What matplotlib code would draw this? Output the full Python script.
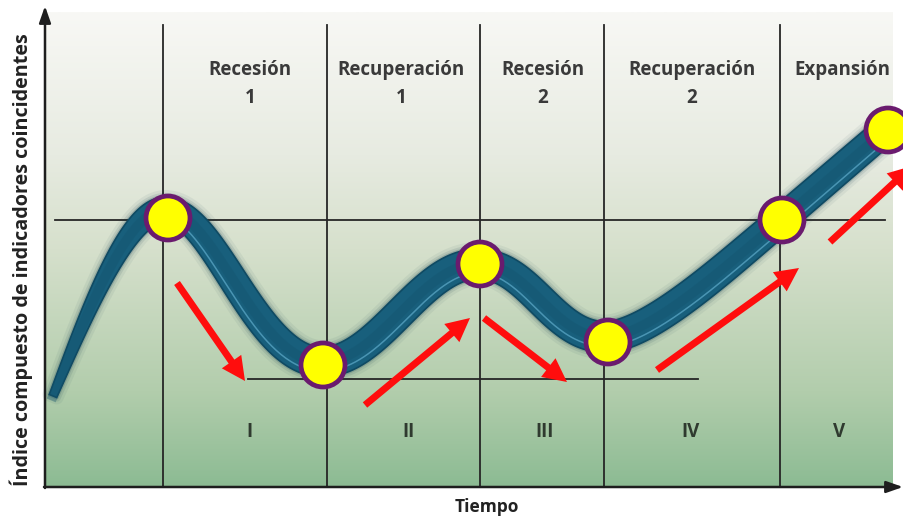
import numpy as np
import matplotlib.pyplot as plt
from matplotlib.colors import LinearSegmentedColormap
from matplotlib.patches import Circle, FancyArrowPatch, Polygon

plt.rcParams['font.family'] = ['Open Sans', 'DejaVu Sans']

# phases and stages along the time axis
phase_names = ["Recesión", "Recuperación", "Recesión", "Recuperación", "Expansión"]
phase_nums = ["1", "1", "2", "2", ""]
phase_x = [250, 401, 543, 692, 842]
stage_names = ["I", "II", "III", "IV", "V"]
stage_x = [249, 409, 545, 691, 839]
cycle_bounds = [163, 327, 480, 604, 780]

# composite index curve: anchors, bezier handles and band width (image units, y down)
anchors = [(53, 396), (165, 210), (322, 362), (478, 264), (605, 337), (781, 220), (886, 130)]
handles = [((85, 318), (128, 208)), ((215, 210), (255, 362)), ((380, 362), (420, 264)),
           ((530, 264), (552, 337)), ((650, 337), (730, 262)), ((816, 190), (851, 160))]
widths = [8, 26, 30, 30, 31, 29, 28]

# turning points
points_x = [168, 323, 480, 608, 782, 888]
points_y = [218, 365, 264, 342, 220, 130]

# red trend arrows (tail, head)
arrows = [((177, 283), (245, 381)), ((365, 405), (470, 318)), ((484, 318), (567, 382)),
          ((657, 370), (799, 268)), ((830, 242), (912, 166))]

ref_high = 220
ref_low = 379


def bez(p0, c1, c2, p1, t):
    p0, c1, c2, p1 = map(np.array, (p0, c1, c2, p1))
    t = t[:, None]
    pt = (1 - t) ** 3 * p0 + 3 * (1 - t) ** 2 * t * c1 + 3 * (1 - t) * t ** 2 * c2 + t ** 3 * p1
    d = 3 * (1 - t) ** 2 * (c1 - p0) + 6 * (1 - t) * t * (c2 - c1) + 3 * t ** 2 * (p1 - c2)
    return pt, d


fig = plt.figure(figsize=(9.04, 5.19), dpi=100)
ax = fig.add_axes([0, 0, 1, 1])
ax.set_xlim(0, 904)
ax.set_ylim(519, 0)
ax.axis('off')

# background gradient
cmap = LinearSegmentedColormap.from_list(
    'bg', [(0, '#f8f8f5'), (0.3, '#e7ebe1'), (0.5, '#d6e0cc'), (0.8, '#b2cdac'), (1, '#8cbb93')])
grad = np.linspace(0, 1, 256).reshape(-1, 1)
ax.imshow(grad, extent=[45, 893, 487, 12], cmap=cmap, aspect='auto', zorder=0)

# grid lines
for x in cycle_bounds:
    ax.plot([x, x], [25, 487], color='#262626', lw=1.3, zorder=1)
ax.plot([55, 885], [ref_high, ref_high], color='#262626', lw=1.3, zorder=1)
ax.plot([248, 698], [ref_low, ref_low], color='#262626', lw=1.3, zorder=1)

# axes with arrow heads
ax.annotate('', xy=(45, 6), xytext=(45, 488),
            arrowprops=dict(arrowstyle='-|>,head_length=1.0,head_width=0.35', lw=1.8,
                            color='#1e1e1e', shrinkA=0, shrinkB=0), zorder=2)
ax.annotate('', xy=(903, 487), xytext=(44, 487),
            arrowprops=dict(arrowstyle='-|>,head_length=1.0,head_width=0.35', lw=1.8,
                            color='#1e1e1e', shrinkA=0, shrinkB=0), zorder=2)

# band around the curve
centers, normals, ws, hl = [], [], [], []
t = np.linspace(0, 1, 80)
for i in range(len(anchors) - 1):
    pt, d = bez(anchors[i], handles[i][0], handles[i][1], anchors[i + 1], t)
    n = np.column_stack([-d[:, 1], d[:, 0]])
    n = n / np.linalg.norm(n, axis=1)[:, None]
    w = widths[i] + (widths[i + 1] - widths[i]) * t
    centers.append(pt)
    normals.append(n)
    ws.append(w)
    hl.append(np.full(len(t), i > 0))
c = np.vstack(centers)
n = np.vstack(normals)
w = np.concatenate(ws)
hl = np.concatenate(hl)
upper = c - n * (w / 2)[:, None]
lower = c + n * (w / 2)[:, None]
outline = np.vstack([upper, lower[::-1]])

for lw, a in [(10, 0.06), (6, 0.1), (3, 0.18)]:
    ax.add_patch(Polygon(outline, closed=True, facecolor='none', edgecolor='#103848',
                         lw=lw, alpha=a, joinstyle='round', zorder=3))
ax.add_patch(Polygon(outline, closed=True, facecolor='#185f7c', edgecolor='#0f4a63',
                     lw=1.2, zorder=4))
ax.plot(c[:, 0], c[:, 1], color='#13536d', lw=7, alpha=0.35, zorder=4)
hline = c + n * (w * 0.3)[:, None]
ax.plot(np.where(hl, hline[:, 0], np.nan), hline[:, 1], color='#5aa7c6', lw=1.1,
        alpha=0.75, zorder=4)

# arrows
for tail, head in arrows:
    ax.add_patch(FancyArrowPatch(tail, head,
                                 arrowstyle='simple,tail_width=5,head_width=17,head_length=17',
                                 color='#ff0d0d', lw=0, shrinkA=0, shrinkB=0, zorder=5))

# turning points
for x, y in zip(points_x, points_y):
    ax.add_patch(Circle((x, y), 22, facecolor='#ffff00', edgecolor='#6a1b6e', lw=3.4, zorder=6))

# labels
for name, num, x in zip(phase_names, phase_nums, phase_x):
    ax.text(x, 70, name, ha='center', va='center', fontsize=13.5, fontweight='bold',
            color='#3a3a3a', zorder=7)
    ax.text(x, 98, num, ha='center', va='center', fontsize=13.5, fontweight='bold',
            color='#3a3a3a', zorder=7)
for name, x in zip(stage_names, stage_x):
    ax.text(x, 432, name, ha='center', va='center', fontsize=13.5, fontweight='bold',
            color='#2f3a2f', zorder=7)
ax.text(487, 507, 'Tiempo', ha='center', va='center', fontsize=12.5, fontweight='bold',
        color='#222222')
ax.text(21, 260, 'Índice compuesto de indicadores coincidentes', rotation=90,
        ha='center', va='center', fontsize=14.2, fontweight='bold', color='#222222')

fig.savefig('out.png', dpi=100)
